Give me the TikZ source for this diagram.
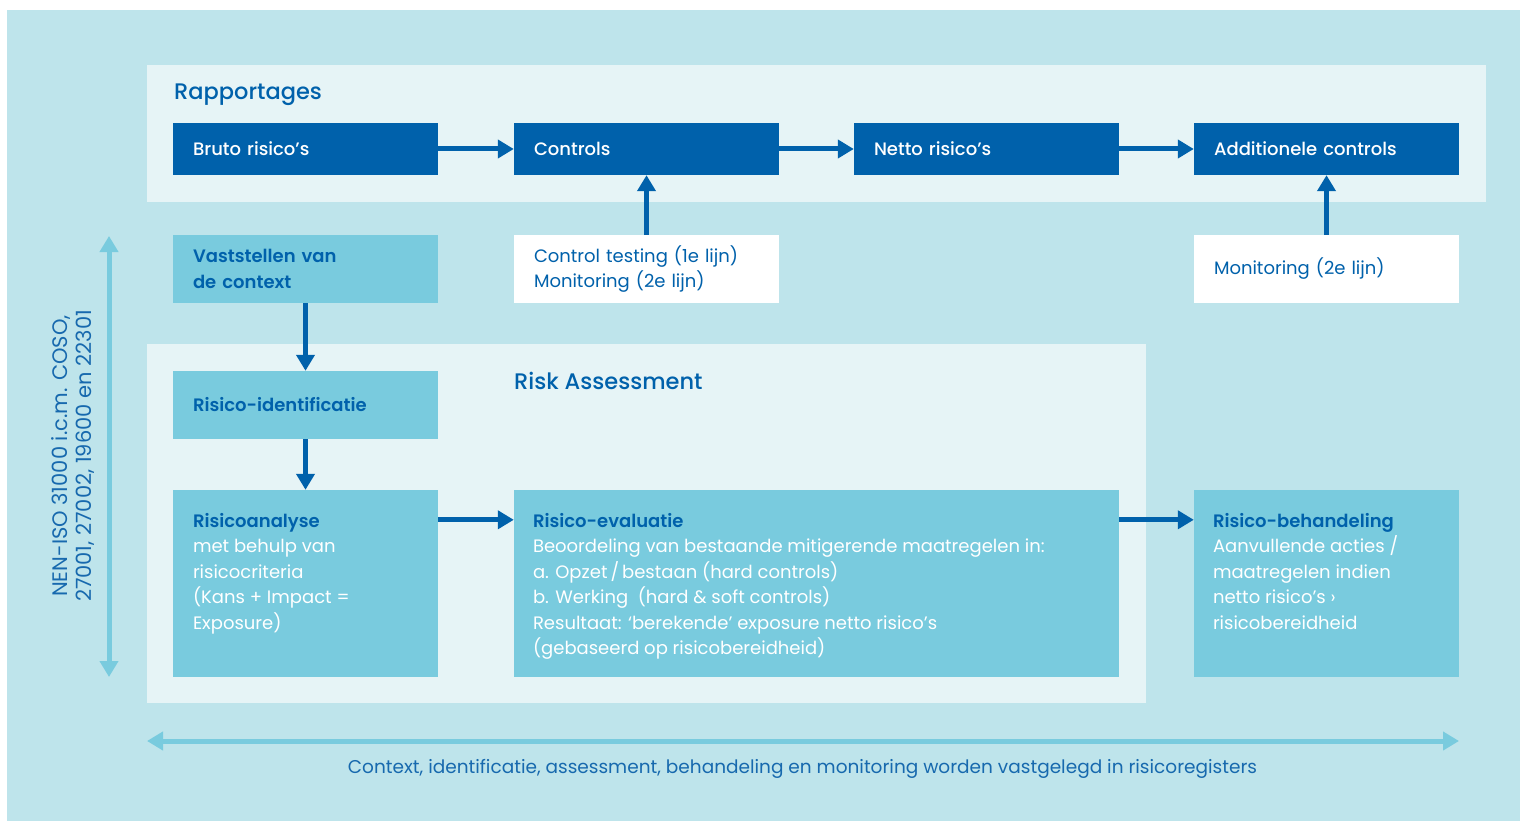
\documentclass[tikz,border=0pt]{standalone}
\usepackage{fontspec}
\setmainfont{Poppins}[BoldFont={Poppins SemiBold}]
\newfontfamily\medfont{Poppins Medium}
\usetikzlibrary{arrows.meta,calc}
\definecolor{bgout}{HTML}{BEE4EB}
\definecolor{panel}{HTML}{E6F4F6}
\definecolor{dblue}{HTML}{0061AB}
\definecolor{lblue}{HTML}{79CBDE}
\definecolor{tblue}{HTML}{1769AE}
\newcommand\bodyfs{\fontsize{18pt}{25.5pt}\selectfont}
\newcommand\titlefs{\fontsize{22.5pt}{28pt}\selectfont}
\newcommand\vertfs{\fontsize{21pt}{24.5pt}\selectfont}
\newcommand\botfs{\fontsize{18.5pt}{24pt}\selectfont}
\tikzset{
  box/.style={inner xsep=20pt, inner ysep=0pt, text width=225pt, minimum width=265pt, align=left, font=\bodyfs},
  dbox/.style={box, fill=dblue, text=white, minimum height=52pt, font=\bodyfs\medfont},
  cbox/.style={box, fill=lblue, text=dblue, font=\bodyfs\bfseries, minimum height=68pt},
  wbox/.style={box, fill=white, text=dblue, minimum height=68pt},
  tallbox/.style={fill=lblue, minimum height=187pt, inner sep=0pt},
  talltext/.style={inner sep=0pt, align=left, font=\bodyfs, text=white, anchor=north west},
  ptitle/.style={inner sep=0pt, anchor=base west, font=\titlefs\medfont, text=dblue},
  darr/.style={draw=dblue, line width=5pt, -{Triangle[length=16pt,width=18pt]}},
  larr/.style={draw=lblue, line width=5pt, {Triangle[length=16pt,width=18pt]}-{Triangle[length=16pt,width=18pt]}},
}
\begin{document}
\begin{tikzpicture}[x=1pt,y=-1pt]
\useasboundingbox (0,0) rectangle (1520,821);
\fill[white] (0,0) rectangle (1520,821);
\fill[bgout] (7,10) rectangle (1520,821);
\fill[panel] (147,65) rectangle (1486,202);
\fill[panel] (147,344) rectangle (1146,703);

\node[ptitle] (raptitle) at (174,100) {Rapportages};
\node[ptitle] (ratitle) at (514,389) {Risk Assessment};

% top row
\node[dbox] (bruto) at (305.5,149) {Bruto risico’s};
\node[dbox] (controls) at (646.5,149) {Controls};
\node[dbox] (netto) at (986.5,149) {Netto risico’s};
\node[dbox] (addc) at (1326.5,149) {Additionele controls};

% second row
\node[cbox] (vast) at (305.5,269) {Vaststellen van\\de context};
\node[wbox] (ctest) at (646.5,269) {Control testing (1e lijn)\\Monitoring (2e lijn)};
\node[wbox] (mon) at (1326.5,269) {Monitoring (2e lijn)};

\node[cbox] (ident) at (305.5,405) {Risico-identificatie};

% tall boxes
\node[tallbox, minimum width=265pt] (ana) at (305.5,583.5) {};
\node[tallbox, minimum width=605pt] (eva) at (816.5,583.5) {};
\node[tallbox, minimum width=265pt] (beh) at (1326.5,583.5) {};

\node[talltext] (anat) at ($(ana.north west)+(20,19.6)$) {\strut\textcolor{dblue}{\bfseries Risicoanalyse}\\met behulp van\\risicocriteria\\(Kans + Impact =\\Exposure)};
\node[talltext] (evat) at ($(eva.north west)+(19,19.6)$) {\strut\textcolor{dblue}{\bfseries Risico-evaluatie}\\Beoordeling van bestaande mitigerende maatregelen in:\\a. Opzet\,/\,bestaan (hard controls)\\b. Werking\ \ (hard \& soft controls)\\Resultaat: ‘berekende’ exposure netto risico’s\\(gebaseerd op risicobereidheid)};
\node[talltext] (beht) at ($(beh.north west)+(19,19.6)$) {\strut\textcolor{dblue}{\bfseries Risico-behandeling}\\Aanvullende acties /\\maatregelen indien\\netto risico’s ›\\risicobereidheid};

% dark arrows
\draw[darr] (bruto.east) -- (controls.west);
\draw[darr] (controls.east) -- (netto.west);
\draw[darr] (netto.east) -- (addc.west);
\draw[darr] (ctest.north) -- (controls.south);
\draw[darr] (mon.north) -- (addc.south);
\draw[darr] (vast.south) -- (ident.north);
\draw[darr] (ident.south) -- (ana.north);
\draw[darr] ($(ana.north east)+(0,30)$) -- ($(eva.north west)+(0,30)$);
\draw[darr] ($(eva.north east)+(0,30)$) -- ($(beh.north west)+(0,30)$);

% light arrows
\coordinate (vtop) at (109,236);
\coordinate (vbot) at (109,677);
\draw[larr] (vtop) -- (vbot);
\coordinate (hl) at (147,741);
\coordinate (hr) at (1459,741);
\draw[larr] (hl) -- (hr);

\node[rotate=90, align=center, text=tblue, font=\vertfs, inner sep=0pt] (std) at (73,456) {NEN-ISO 31000 i.c.m. COSO,\\27001, 27002, 19600 en 22301};
\node[anchor=base, text=tblue, font=\botfs, inner sep=0pt] (bottom) at (802.5,773) {Context, identificatie, assessment, behandeling en monitoring worden vastgelegd in risicoregisters};
\end{tikzpicture}
\end{document}
